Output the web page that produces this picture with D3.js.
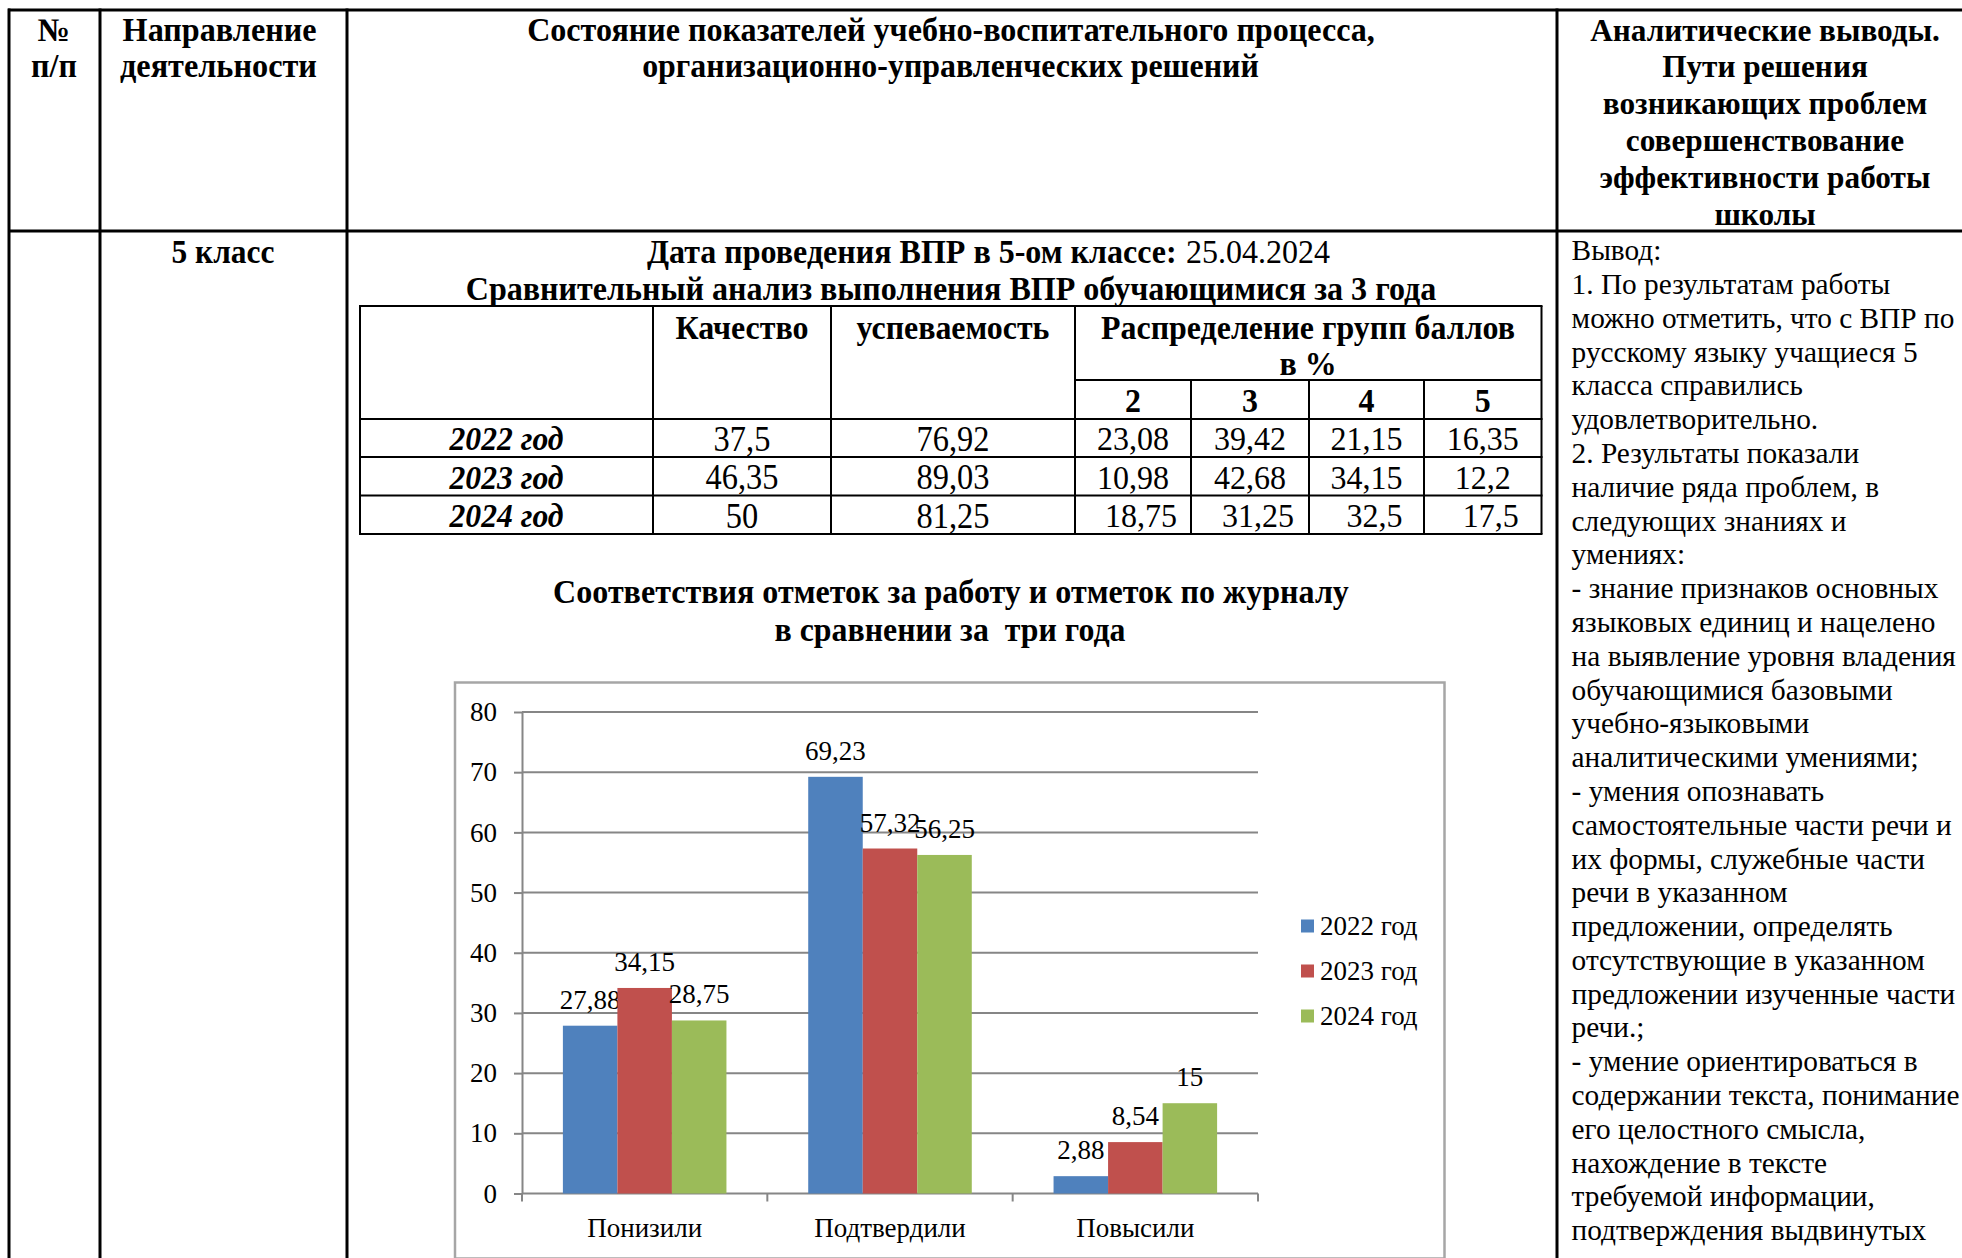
<!DOCTYPE html>
<html><head><meta charset="utf-8">
<script src="https://cdn.jsdelivr.net/npm/d3@7"></script>
<style>html,body{margin:0;padding:0;background:#fff;overflow:hidden}text{white-space:pre}</style>
</head><body>
<script>
// ---- chart data ----
const categories = ["Понизили", "Подтвердили", "Повысили"];
const seriesNames = ["2022 год", "2023 год", "2024 год"];
const values2022 = [27.88, 69.23, 2.88];
const values2023 = [34.15, 57.32, 8.54];
const values2024 = [28.75, 56.25, 15];
const yTicks = [0, 10, 20, 30, 40, 50, 60, 70, 80];
const seriesColors = ["#4F81BD", "#C0504D", "#9BBB59"];

// ---- table data ----
const tableYears = ["2022 год", "2023 год", "2024 год"];
const quality = [37.5, 46.35, 50];
const progress = [76.92, 89.03, 81.25];
const grade2 = [23.08, 10.98, 18.75];
const grade3 = [39.42, 42.68, 31.25];
const grade4 = [21.15, 34.15, 32.5];
const grade5 = [16.35, 12.2, 17.5];
const gradeLabels = ["2", "3", "4", "5"];

const rightHeaderLines = ["Аналитические выводы.", "Пути решения", "возникающих проблем", "совершенствование", "эффективности работы", "школы"];
const conclusionLines = [
  "Вывод:",
  "1. По результатам работы",
  "можно отметить, что с ВПР по",
  "русскому языку учащиеся 5",
  "класса справились",
  "удовлетворительно.",
  "2. Результаты показали",
  "наличие ряда проблем, в",
  "следующих знаниях и",
  "умениях:",
  "- знание признаков основных",
  "языковых единиц и нацелено",
  "на выявление уровня владения",
  "обучающимися базовыми",
  "учебно-языковыми",
  "аналитическими умениями;",
  "- умения опознавать",
  "самостоятельные части речи и",
  "их формы, служебные части",
  "речи в указанном",
  "предложении, определять",
  "отсутствующие в указанном",
  "предложении изученные части",
  "речи.;",
  "- умение ориентироваться в",
  "содержании текста, понимание",
  "его целостного смысла,",
  "нахождение в тексте",
  "требуемой информации,",
  "подтверждения выдвинутых"
];

const FF = "'Liberation Serif','Times New Roman',serif";
const loc = d3.formatLocale({decimal: ",", thousands: " ", grouping: [3], currency: ["", ""]});
const fmt = loc.format("");

const svg = d3.select("body").append("svg").attr("width", 1962).attr("height", 1258)
  .style("display", "block").style("background", "#fff");

function styleText(t, st) {
  return t.attr("font-family", FF).attr("font-size", st.size)
    .attr("font-weight", st.bold ? "bold" : "normal")
    .attr("font-style", st.italic ? "italic" : "normal");
}
function natW(str, st) {
  const t = styleText(svg.append("text"), st).text(str);
  const w = t.node().getComputedTextLength();
  t.remove();
  return w;
}
function put(g, str, x, y, st, anchor, w) {
  const k = w ? w / natW(str, st) : (st.k || 1);
  return styleText(g.append("text"), st)
    .attr("transform", `translate(${x},${y}) scale(${k},1)`)
    .attr("text-anchor", anchor || "middle")
    .attr("dominant-baseline", "central")
    .attr("fill", "#000").text(str);
}
function makeStyle(size, bold, italic, ref, refW) {
  const st = {size, bold, italic};
  st.k = ref ? refW / natW(ref, st) : 1;
  return st;
}

const HB = makeStyle(33, true, false, "Состояние показателей учебно-воспитательного процесса,", 848);
const RB = makeStyle(32, true, false, "Аналитические выводы.", 350);
const TB = makeStyle(33, true, false, "Распределение групп баллов", 414);
const CB = makeStyle(34, true, false);
const CBI = makeStyle(34, true, true, "2022 год", 114);
const CR = makeStyle(35, false, false, "76,92", 73);
const NR = makeStyle(34, false, false, "23,08", 72);
const BODY = makeStyle(29.5, false, false, "можно отметить, что с ВПР по", 383);
const CH = {size: 27, bold: false, italic: false, k: 1};

// ---- outer document table ----
const grid = svg.append("g").attr("stroke", "#000").attr("stroke-width", 3);
grid.append("line").attr("x1", 8).attr("x2", 1962).attr("y1", 10).attr("y2", 10);
grid.append("line").attr("x1", 8).attr("x2", 1962).attr("y1", 231).attr("y2", 231);
[9, 100, 347, 1557].forEach(xv => grid.append("line").attr("x1", xv).attr("x2", xv).attr("y1", 8.5).attr("y2", 1258));

const txt = svg.append("g");
put(txt, "№", 54, 30, HB);
put(txt, "п/п", 54, 66, HB);
put(txt, "Направление", 122.6, 30, HB, "start", 194);
put(txt, "деятельности", 120, 66, HB, "start", 197);
put(txt, "Состояние показателей учебно-воспитательного процесса,", 951, 30, HB, "middle", 848);
put(txt, "организационно-управленческих решений", 950.5, 66, HB, "middle", 617);
rightHeaderLines.forEach((s, i) => put(txt, s, 1765, 30 + i * 36.8, RB, "middle"));

put(txt, "5 класс", 223, 251.5, TB, "middle", 103);
put(txt, "Дата проведения ВПР в 5-ом классе:", 647, 251.5, CB, "start", 530);
put(txt, "25.04.2024", 1186, 251.5, NR, "start", 144);
put(txt, "Сравнительный анализ выполнения ВПР обучающимися за 3 года", 951, 289, CB, "middle", 971);

conclusionLines.forEach((s, i) => put(txt, s, 1571.6, 250.3 + i * 33.79, BODY, "start"));

// ---- inner table ----
const colX = [360, 653, 831, 1075, 1191, 1309, 1424, 1541.5];
const rowY = [306, 419, 457, 495.5, 534];
const it = svg.append("g").attr("stroke", "#000").attr("stroke-width", 2);
rowY.forEach(yv => it.append("line").attr("x1", colX[0] - 1).attr("x2", colX[7] + 1).attr("y1", yv).attr("y2", yv));
it.append("line").attr("x1", colX[3]).attr("x2", colX[7]).attr("y1", 380).attr("y2", 380);
colX.forEach((xv, i) => it.append("line").attr("x1", xv).attr("x2", xv)
  .attr("y1", (i >= 4 && i <= 6) ? 380 : rowY[0]).attr("y2", rowY[4]));

put(txt, "Качество", 742, 328, CB, "middle", 133);
put(txt, "успеваемость", 953, 328, CB, "middle", 193);
put(txt, "Распределение групп баллов", 1308, 328, TB, "middle");
put(txt, "в %", 1308, 364, TB, "middle");
gradeLabels.forEach((g, i) => put(txt, g, (colX[3 + i] + colX[4 + i]) / 2, 400.4, TB, "middle"));

const grades = [grade2, grade3, grade4, grade5];
tableYears.forEach((yr, r) => {
  const cy = (rowY[r + 1] + rowY[r + 2]) / 2 + 1;
  put(txt, yr, (colX[0] + colX[1]) / 2, cy, CBI, "middle");
  put(txt, fmt(quality[r]), (colX[1] + colX[2]) / 2, cy, CR, "middle");
  put(txt, fmt(progress[r]), (colX[2] + colX[3]) / 2, cy, CR, "middle");
  grades.forEach((arr, c) => {
    const shift = r === 2 ? 8 : 0;
    put(txt, fmt(arr[r]), (colX[3 + c] + colX[4 + c]) / 2 + shift, cy, NR, "middle");
  });
});

// ---- chart title ----
put(txt, "Соответствия отметок за работу и отметок по журналу", 951, 592, CB, "middle", 796);
put(txt, "в сравнении за  три года", 950, 629.4, CB, "middle", 351);

// ---- chart ----
const chart = svg.append("g");
chart.append("rect").attr("x", 455).attr("y", 682.5).attr("width", 989.5).attr("height", 576)
  .attr("fill", "#fff").attr("stroke", "#a6a6a6").attr("stroke-width", 2.5);

const x0 = d3.scaleBand().domain(categories).range([522, 1258]).paddingInner(1 / 3).paddingOuter(1 / 6);
const x1 = d3.scaleBand().domain(seriesNames).range([0, x0.bandwidth()]);
const y = d3.scaleLinear().domain([0, 80]).range([1193.5, 712]);
const series = [values2022, values2023, values2024];

// gridlines
chart.append("g").selectAll("line").data(yTicks).join("line")
  .attr("x1", 522).attr("x2", 1258).attr("y1", d => y(d)).attr("y2", d => y(d))
  .attr("stroke", "#868686").attr("stroke-width", 2);

const ya = chart.append("g").attr("transform", "translate(522,0)")
  .call(d3.axisLeft(y).tickValues(yTicks).tickSize(8).tickSizeOuter(0).tickPadding(17).tickFormat(d => d));
ya.select(".domain").attr("stroke", "#868686").attr("stroke-width", 2);
ya.selectAll(".tick line").attr("stroke", "#868686").attr("stroke-width", 2);
ya.selectAll(".tick text").attr("font-family", FF).attr("font-size", 27).attr("fill", "#000");

// category boundary ticks
const bounds = d3.range(categories.length + 1).map(i => x0.range()[0] + i * x0.step());
chart.append("g").selectAll("line").data(bounds).join("line")
  .attr("x1", d => d).attr("x2", d => d).attr("y1", y(0)).attr("y2", y(0) + 8)
  .attr("stroke", "#868686").attr("stroke-width", 2);

// bars
series.forEach((vals, si) => {
  const g = chart.append("g");
  g.selectAll("rect").data(vals).join("rect")
    .attr("x", (d, i) => x0(categories[i]) + x1(seriesNames[si]))
    .attr("y", d => y(d))
    .attr("width", x1.bandwidth())
    .attr("height", d => y(0) - y(d))
    .attr("fill", seriesColors[si]);
  g.selectAll("text").data(vals).join("text")
    .attr("x", (d, i) => x0(categories[i]) + x1(seriesNames[si]) + x1.bandwidth() / 2)
    .attr("y", d => y(d) - 26)
    .attr("text-anchor", "middle").attr("dominant-baseline", "central")
    .attr("font-family", FF).attr("font-size", 27).attr("fill", "#000")
    .text(d => fmt(d));
});

// category labels
chart.append("g").selectAll("text").data(categories).join("text")
  .attr("x", d => x0(d) + x0.bandwidth() / 2).attr("y", 1228)
  .attr("text-anchor", "middle").attr("dominant-baseline", "central")
  .attr("font-family", FF).attr("font-size", 27).attr("fill", "#000").text(d => d);

// legend
const lg = chart.append("g");
seriesNames.forEach((n, i) => {
  const cy = 926 + i * 45;
  lg.append("rect").attr("x", 1301).attr("y", cy - 6.5).attr("width", 13).attr("height", 13).attr("fill", seriesColors[i]);
  lg.append("text").attr("x", 1320).attr("y", cy).attr("dominant-baseline", "central")
    .attr("font-family", FF).attr("font-size", 27).attr("fill", "#000").text(n);
});
</script>
</body></html>
